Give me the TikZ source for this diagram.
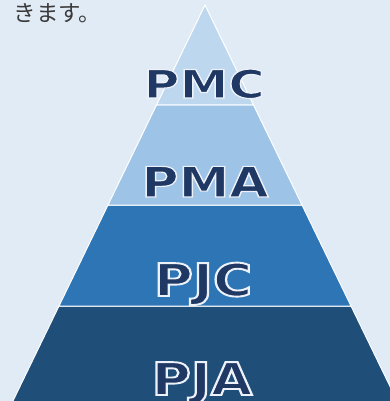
\documentclass[tikz,border=0pt]{standalone}
\usepackage{fontspec}
\setmainfont{DejaVu Sans}
\newfontfamily\jpfont{Noto Sans CJK JP}
\usepackage{graphicx}
\definecolor{bgblue}{HTML}{E1EBF5}
\definecolor{tierA}{HTML}{BDD7EE}
\definecolor{tierB}{HTML}{9DC3E6}
\definecolor{tierC}{HTML}{2E75B6}
\definecolor{tierD}{HTML}{1F4E79}
\definecolor{navytext}{HTML}{203864}
\definecolor{greytext}{HTML}{3A3A3A}
\newcommand{\tierlabel}[3]{\scalebox{#1}[1]{\special{pdf:literal direct 2 Tr 0.93 0.95 0.98 RG #2 w}#3\special{pdf:literal direct 0 Tr 0 G 0.4 w}}}

\begin{document}
\begin{tikzpicture}[x=1pt,y=-1pt,
  tier/.style={draw=white, line width=1pt},
  tiertext/.style={text=navytext, inner sep=0pt, anchor=base,
    font=\bfseries\fontsize{42}{42}\selectfont}]
\fill [bgblue] (0,0) rectangle (390,401);
\useasboundingbox (0,0) rectangle (390,401);

\begin{scope}
\clip (0,0) rectangle (390,401);
\draw [tier, fill=tierD] (59,306) -- (351,306) -- (406.3,420) -- (3.7,420) -- cycle;
\draw [tier, fill=tierC] (108,205) -- (302,205) -- (351,306) -- (59,306) -- cycle;
\draw [tier, fill=tierB] (156.5,105) -- (253.5,105) -- (302,205) -- (108,205) -- cycle;
\draw [tier, fill=tierA] (205,5) -- (253.5,105) -- (156.5,105) -- cycle;
\end{scope}

\node (intro) [anchor=base west, text=greytext, inner sep=0pt,
  font=\jpfont\fontsize{22.5}{22.5}\selectfont] at (13.5,21.5) {きます。};

\node (pmc) [tiertext, font=\bfseries\fontsize{39}{39}\selectfont] at (204,98) {\tierlabel{1.26}{1.2}{PMC}};
\node (pma) [tiertext] at (205,197) {\tierlabel{1.21}{1.2}{PMA}};
\node (pjc) [tiertext, font=\bfseries\fontsize{45}{45}\selectfont] at (203,296) {\tierlabel{1.19}{1.9}{PJC}};
\node (pja) [tiertext, font=\bfseries\fontsize{45}{45}\selectfont] at (202,395) {\tierlabel{1.19}{1.9}{PJA}};
\end{tikzpicture}
\end{document}
